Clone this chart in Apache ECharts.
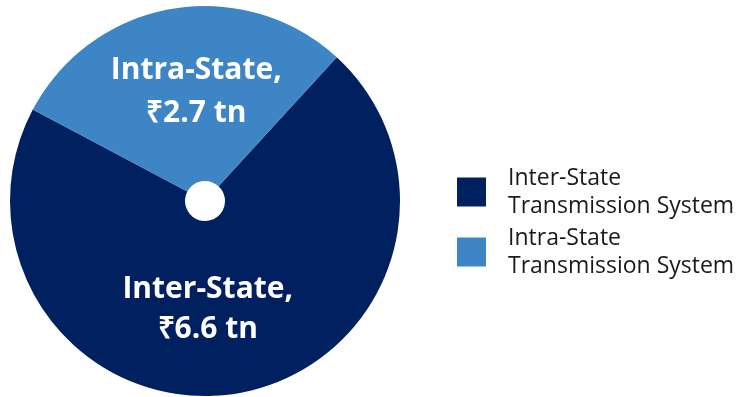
<!DOCTYPE html>
<html>
<head>
<meta charset="utf-8">
<script src="https://cdn.jsdelivr.net/npm/echarts@6/dist/echarts.min.js"></script>
<style>html,body{margin:0;padding:0;background:#fff}#c{width:755px;height:397px}</style>
</head>
<body>
<div id="c"></div>
<script>
var categories = ['Inter-State', 'Intra-State'];
var legendNames = ['Inter-State\nTransmission System', 'Intra-State\nTransmission System'];
var values = [6.6, 2.7];
var colors = ['#002060', '#3E85C6'];
var labelPadding = [[0, 32, 12, 0], [0, 0, 53, 20]];
var labelLineHeights = [40, 43];

var chart = echarts.init(document.getElementById('c'));
chart.setOption({
  animation: false,
  legend: {
    orient: 'vertical',
    left: 452,
    top: 159,
    itemWidth: 29,
    itemHeight: 29,
    itemGap: 4,
    icon: 'rect',
    textStyle: { fontFamily: 'Open Sans', fontSize: 23, color: '#1a1a1a', lineHeight: 28, padding: [0, 0, 0, 17] },
    data: legendNames
  },
  series: [{
    type: 'pie',
    center: [205, 201],
    radius: [20, 195],
    startAngle: 47.5,
    clockwise: true,
    label: {
      show: true,
      position: 'inside',
      color: '#fff',
      fontFamily: 'Open Sans',
      fontWeight: 'bold',
      fontSize: 30,
      formatter: function (p) { return categories[p.dataIndex] + ',\n₹' + p.value + ' tn'; }
    },
    labelLine: { show: false },
    emphasis: { disabled: true },
    data: values.map(function (v, i) {
      return { name: legendNames[i], value: v, itemStyle: { color: colors[i] },
        label: { padding: labelPadding[i], lineHeight: labelLineHeights[i] } };
    })
  }]
});
</script>
</body>
</html>
